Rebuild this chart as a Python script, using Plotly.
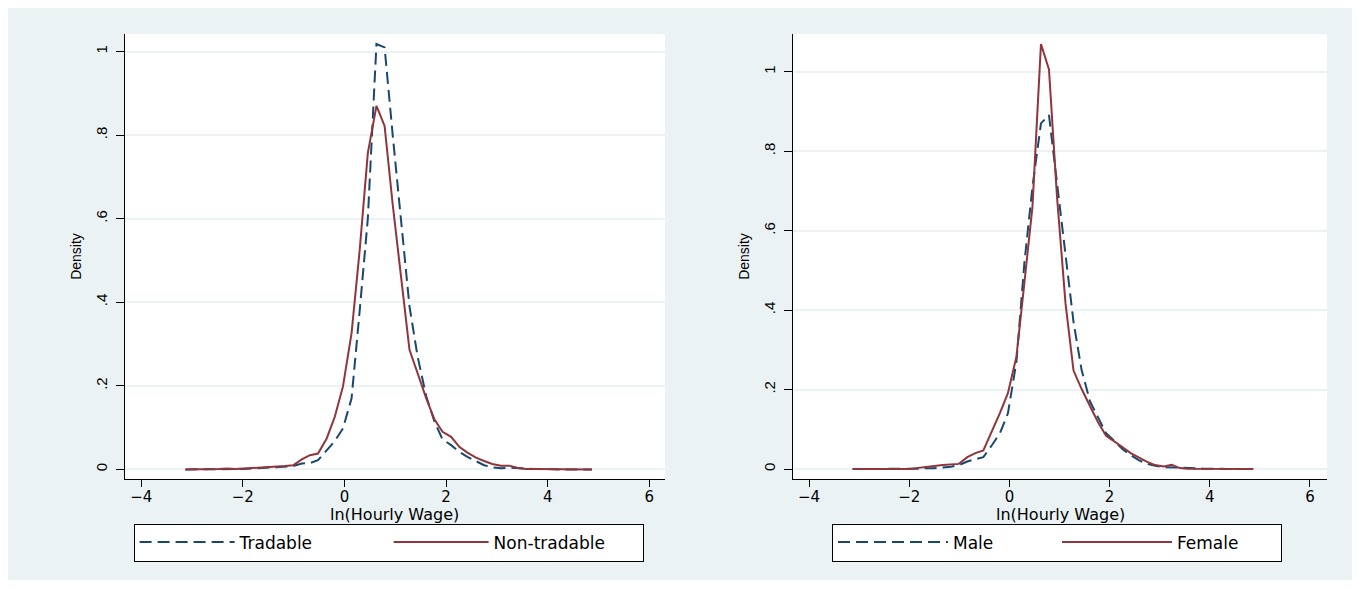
import plotly.graph_objects as go

# ---- data ----
wage_grid = [-3.13, -2.97, -2.80, -2.64, -2.48, -2.31, -2.15, -1.99, -1.82, -1.66,
             -1.50, -1.33, -1.17, -1.01, -0.84, -0.68, -0.52, -0.35, -0.19, -0.03,
             0.14, 0.30, 0.46, 0.63, 0.79, 0.95, 1.12, 1.28, 1.44, 1.61,
             1.77, 1.93, 2.10, 2.26, 2.42, 2.59, 2.75, 2.91, 3.08, 3.24,
             3.40, 3.57, 3.73, 3.89, 4.06, 4.22, 4.38, 4.55, 4.71, 4.87]

tradable = [0.000, 0.000, 0.000, 0.000, 0.001, 0.001, 0.000, 0.001, 0.002, 0.003,
            0.004, 0.005, 0.006, 0.008, 0.014, 0.015, 0.022, 0.045, 0.068, 0.098,
            0.170, 0.380, 0.600, 1.018, 1.010, 0.800, 0.590, 0.390, 0.270, 0.175,
            0.115, 0.072, 0.058, 0.042, 0.030, 0.020, 0.010, 0.005, 0.003, 0.004,
            0.003, 0.001, 0.001, 0.001, 0.000, 0.000, 0.000, 0.000, 0.000, 0.000]

non_tradable = [0.000, 0.000, 0.000, 0.001, 0.001, 0.002, 0.001, 0.002, 0.003, 0.004,
                0.005, 0.006, 0.008, 0.010, 0.024, 0.034, 0.038, 0.074, 0.126, 0.198,
                0.326, 0.525, 0.757, 0.870, 0.822, 0.634, 0.452, 0.286, 0.230, 0.170,
                0.120, 0.090, 0.078, 0.054, 0.040, 0.028, 0.020, 0.013, 0.009, 0.009,
                0.004, 0.001, 0.001, 0.001, 0.001, 0.000, 0.000, 0.000, 0.000, 0.000]

male = [0.000, 0.000, 0.000, 0.000, 0.000, 0.001, 0.000, 0.000, 0.001, 0.002,
        0.002, 0.004, 0.006, 0.010, 0.019, 0.025, 0.030, 0.060, 0.090, 0.140,
        0.270, 0.520, 0.710, 0.870, 0.891, 0.720, 0.545, 0.370, 0.250, 0.170,
        0.130, 0.090, 0.070, 0.050, 0.035, 0.022, 0.013, 0.008, 0.005, 0.004,
        0.003, 0.002, 0.001, 0.001, 0.001, 0.000, 0.000, 0.000, 0.000, 0.000]

female = [0.000, 0.000, 0.001, 0.001, 0.001, 0.001, 0.000, 0.000, 0.003, 0.006,
          0.008, 0.010, 0.012, 0.013, 0.030, 0.040, 0.047, 0.094, 0.141, 0.191,
          0.283, 0.470, 0.660, 1.070, 1.006, 0.686, 0.417, 0.248, 0.202, 0.158,
          0.118, 0.084, 0.070, 0.055, 0.040, 0.028, 0.018, 0.010, 0.0065, 0.011,
          0.0025, 0.001, 0.001, 0.001, 0.001, 0.000, 0.000, 0.000, 0.000, 0.000]

x_ticks = [-4, -2, 0, 2, 4, 6]
y_ticks = [0, 0.2, 0.4, 0.6, 0.8, 1]
y_tick_labels = ["0", ".2", ".4", ".6", ".8", "1"]
x_title = "ln(Hourly Wage)"
y_title = "Density"

# ---- styling ----
# the page body has an 8px margin, so the figure starts at (8, 8)
OFF = 8
W, H = 1344, 572
NAVY = "#1a476f"
MAROON = "#90353b"
BG = "#eaf2f3"
FONT = "Liberation Sans, Arial, sans-serif"
WIDE = "DejaVu Sans, Verdana, sans-serif"
DASH = "12px,6px"


def fx(px):
    return (px - OFF) / W


def fy(py):
    return (OFF + H - py) / H


fig = go.Figure()
fig.add_trace(go.Scatter(x=wage_grid, y=tradable, mode="lines", name="Tradable",
                         line=dict(color=NAVY, width=2, dash=DASH),
                         xaxis="x", yaxis="y", legend="legend"))
fig.add_trace(go.Scatter(x=wage_grid, y=non_tradable, mode="lines", name="Non-tradable",
                         line=dict(color=MAROON, width=2),
                         xaxis="x", yaxis="y", legend="legend"))
fig.add_trace(go.Scatter(x=wage_grid, y=male, mode="lines", name="Male",
                         line=dict(color=NAVY, width=2, dash=DASH),
                         xaxis="x2", yaxis="y2", legend="legend2"))
fig.add_trace(go.Scatter(x=wage_grid, y=female, mode="lines", name="Female",
                         line=dict(color=MAROON, width=2),
                         xaxis="x2", yaxis="y2", legend="legend2"))


def xaxis(domain, rng, anchor):
    return dict(domain=domain, range=rng, anchor=anchor,
                tickmode="array", tickvals=x_ticks,
                ticks="outside", ticklen=7, tickcolor="black", tickwidth=1,
                ticklabelstandoff=-3,
                showline=True, linecolor="black", linewidth=1,
                showgrid=False, zeroline=False,
                tickfont=dict(family=WIDE, size=15, color="black"))


def yaxis(domain, rng, anchor):
    return dict(domain=domain, range=rng, anchor=anchor,
                tickmode="array", tickvals=y_ticks, ticktext=y_tick_labels,
                tickangle=-90, ticklabelstandoff=3,
                ticks="outside", ticklen=8, tickcolor="black", tickwidth=1,
                showline=True, linecolor="black", linewidth=1,
                showgrid=True, gridcolor=BG, gridwidth=1.8, zeroline=False,
                tickfont=dict(family=FONT, size=15, color="black"),
                title=dict(text=y_title, standoff=8,
                           font=dict(family=FONT, size=14, color="black")))


ydom = [fy(479), fy(34)]

legend_common = dict(orientation="h", xanchor="left", yanchor="middle",
                     y=fy(542.5), bgcolor="white", bordercolor="black",
                     borderwidth=1, font=dict(family=WIDE, size=17, color="black"),
                     entrywidthmode="pixels")

fig.update_layout(
    width=W, height=H,
    margin=dict(l=0, r=0, t=0, b=0, autoexpand=False),
    paper_bgcolor=BG, plot_bgcolor="white",
    font=dict(family=FONT, color="black"),
    xaxis=xaxis([fx(125), fx(665)], [-4.32, 6.31], "y"),
    yaxis=yaxis(ydom, [-0.023, 1.042], "x"),
    xaxis2=xaxis([fx(793), fx(1327)], [-4.32, 6.34], "y2"),
    yaxis2=yaxis(ydom, [-0.025, 1.095], "x2"),
    legend=dict(x=fx(133.6), entrywidth=144, itemwidth=95, **legend_common),
    legend2=dict(x=fx(832), entrywidth=99, itemwidth=110, **legend_common),
    annotations=[
        dict(text=x_title, xref="paper", yref="paper", x=fx(395), y=fy(514.5),
             xanchor="center", yanchor="middle", showarrow=False,
             font=dict(family=WIDE, size=16, color="black")),
        dict(text=x_title, xref="paper", yref="paper", x=fx(1060), y=fy(514.5),
             xanchor="center", yanchor="middle", showarrow=False,
             font=dict(family=WIDE, size=16, color="black")),
    ],
)

fig.write_html("out.html")
